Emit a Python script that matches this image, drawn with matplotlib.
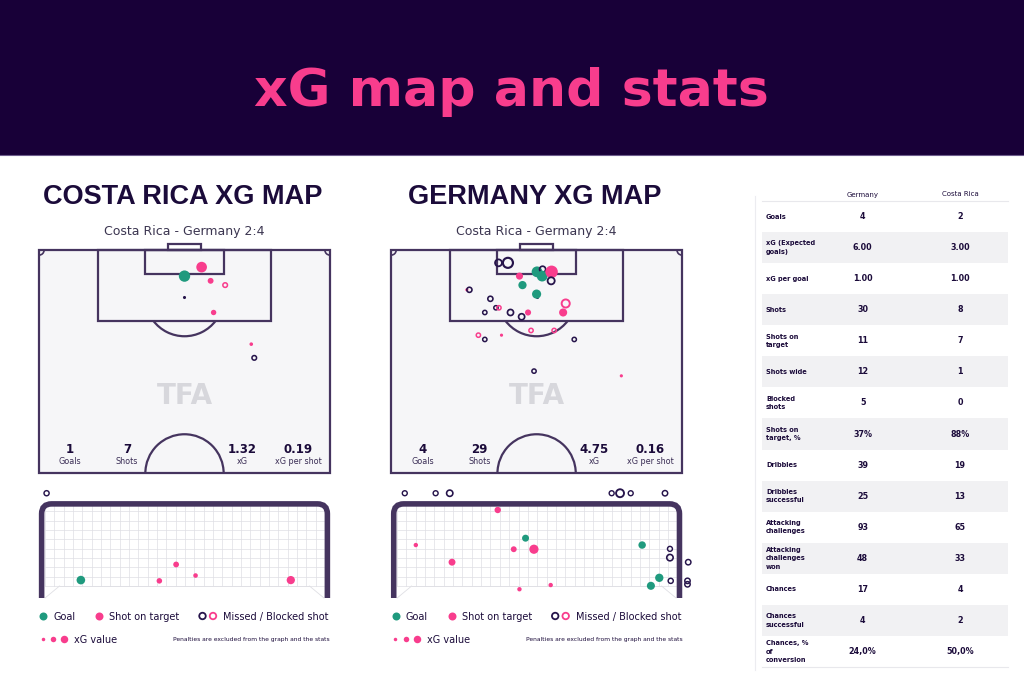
import numpy as np
import matplotlib
matplotlib.use('Agg')
import matplotlib.pyplot as plt
from matplotlib.patches import Rectangle, Arc, PathPatch
from matplotlib.path import Path

plt.rcParams['font.family'] = 'DejaVu Sans'

W, H = 1024, 683

# colours
navy = '#180038'
pink = '#f83d8d'
green = '#1f9a7e'
dark = '#26144b'
line_col = '#45345f'
pitch_bg = '#f6f6f8'
net_col = '#dfdfe4'
text_dark = '#1b0b3a'
row_grey = '#f1f1f3'

# ---------------- data ----------------
match_label = 'Costa Rica - Germany 2:4'
summary_labels = ['Goals', 'Shots', 'xG', 'xG per shot']
cr_summary = ['1', '7', '1.32', '0.19']
de_summary = ['4', '29', '4.75', '0.16']

# shots on pitch: x across (m, 0 = centre), y = metres from goal line
cr_shot_x = [4.0, 0.0, 6.1, 9.5, 6.8, 15.6, 16.3]
cr_shot_y = [4.0, 6.1, 7.2, 8.2, 14.6, 22.0, 25.2]
cr_shot_xg = [0.43, 0.49, 0.12, 0.07, 0.10, 0.04, 0.07]
cr_shot_type = ['target', 'goal', 'target', 'blocked', 'target', 'target', 'missed']

de_shot_x = [-8.9, -6.7, 0.1, 1.4, 1.3, 3.5, 3.4, -4.0, -3.3, 0.0, -16.3, -15.7,
             -10.8, -12.1, -9.5, -8.8, -6.1, -2.0, -3.5, 6.8, 6.2, -1.3, 4.1,
             -13.6, -12.1, -8.2, 8.8, -0.6, 19.8]
de_shot_y = [3.0, 3.0, 5.1, 4.5, 6.1, 5.1, 7.2, 6.1, 8.2, 10.3, 9.3, 9.3,
             11.4, 14.6, 13.5, 13.5, 14.6, 14.6, 15.6, 12.5, 14.6, 18.8, 18.8,
             19.9, 20.9, 19.9, 20.9, 28.3, 29.4]
de_shot_xg = [0.17, 0.38, 0.44, 0.13, 0.44, 0.60, 0.18, 0.18, 0.25, 0.31, 0.03, 0.09,
              0.09, 0.06, 0.06, 0.06, 0.13, 0.13, 0.13, 0.24, 0.24, 0.06, 0.06,
              0.06, 0.06, 0.03, 0.06, 0.06, 0.03]
de_shot_type = ['missed', 'missed', 'goal', 'missed', 'goal', 'target', 'missed',
                'target', 'goal', 'goal', 'target', 'missed', 'missed', 'missed',
                'missed', 'blocked', 'missed', 'target', 'missed', 'blocked', 'target',
                'blocked', 'blocked', 'blocked', 'missed', 'target', 'missed',
                'missed', 'target']

# shots seen in the goal mouth: x across goal (m), y height (m)
cr_goal_x = [-3.62, -2.72, -0.66, -0.22, 0.29, 2.79]
cr_goal_y = [2.75, 0.47, 0.45, 0.88, 0.59, 0.47]
cr_goal_xg = [0.07, 0.49, 0.10, 0.12, 0.04, 0.43]
cr_goal_type = ['missed', 'goal', 'target', 'target', 'target', 'target']

de_goal_x = [-3.46, -2.65, -2.28, 1.97, 2.19, 2.47, 3.37, -1.02, -3.17, -0.29,
             -0.60, -0.07, -2.22, 2.77, 3.50, 3.50, 3.98, 3.22, 3.00, 3.52,
             3.96, 3.96, -0.45, 0.37]
de_goal_y = [2.75, 2.75, 2.75, 2.75, 2.75, 2.75, 2.75, 2.31, 1.39, 1.57,
             1.28, 1.28, 0.94, 1.39, 1.29, 1.06, 0.94, 0.53, 0.32, 0.45,
             0.45, 0.36, 0.23, 0.34]
de_goal_xg = [0.06, 0.06, 0.17, 0.06, 0.38, 0.06, 0.09, 0.18, 0.03, 0.25,
              0.13, 0.60, 0.24, 0.31, 0.06, 0.18, 0.09, 0.44, 0.40, 0.07,
              0.09, 0.09, 0.03, 0.03]
de_goal_type = ['missed'] * 7 + ['target', 'target', 'goal', 'target', 'target',
                                 'target', 'goal', 'missed', 'missed', 'missed',
                                 'goal', 'goal', 'missed', 'missed', 'missed',
                                 'target', 'target']

# stats table
table_labels = ['Goals', 'xG (Expected\ngoals)', 'xG per goal', 'Shots',
                'Shots on\ntarget', 'Shots wide', 'Blocked\nshots',
                'Shots on\ntarget, %', 'Dribbles', 'Dribbles\nsuccessful',
                'Attacking\nchallenges', 'Attacking\nchallenges\nwon', 'Chances',
                'Chances\nsuccessful', 'Chances, %\nof\nconversion']
germany_vals = ['4', '6.00', '1.00', '30', '11', '12', '5', '37%', '39', '25',
                '93', '48', '17', '4', '24,0%']
costa_vals = ['2', '3.00', '1.00', '8', '7', '1', '0', '88%', '19', '13',
              '65', '33', '4', '2', '50,0%']

# ---------------- helpers ----------------
S = 4.28      # px per metre on the pitch
SG = 38.1     # px per metre on the goal view


def px_axes(x0, y0, w, h):
    ax = fig.add_axes([x0 / W, 1 - (y0 + h) / H, w / W, h / H])
    ax.axis('off')
    return ax


def marker_style(types, xg, k, base, lw_k):
    fc, ec, sizes, lws = [], [], [], []
    for t, v in zip(types, xg):
        d = base + k * np.sqrt(v)
        sizes.append((d * 0.72) ** 2)
        if t == 'goal':
            fc.append(green); ec.append(green); lws.append(0)
        elif t == 'target':
            fc.append(pink); ec.append(pink); lws.append(0)
        elif t == 'blocked':
            fc.append('none'); ec.append(pink); lws.append(0.8 + lw_k * np.sqrt(v))
        else:
            fc.append('none'); ec.append(dark); lws.append(0.8 + lw_k * np.sqrt(v))
    return fc, ec, sizes, lws


def draw_pitch(cx, values, sx, sy, sxg, stype):
    ax = px_axes(cx - 34.8 * S, 250 - 2.5 * S, 69.6 * S, 56 * S)
    ax.set_xlim(-34.8, 34.8)
    ax.set_ylim(53.5, -2.5)
    kw = dict(fill=False, ec=line_col, lw=1.6)
    ax.add_patch(Rectangle((-34, 0), 68, 52.2, fc=pitch_bg, ec=line_col, lw=1.6))
    ax.add_patch(Rectangle((-20.16, 0), 40.32, 16.5, **kw))
    ax.add_patch(Rectangle((-9.16, 0), 18.32, 5.5, **kw))
    ax.add_patch(Rectangle((-3.9, -1.3), 7.8, 1.3, **kw))
    ax.add_patch(Arc((0, 11), 18.3, 18.3, theta1=37, theta2=143, ec=line_col, lw=1.6))
    ax.add_patch(Arc((0, 52.2), 18.3, 18.3, theta1=180, theta2=360, ec=line_col, lw=1.6))
    ax.add_patch(Arc((-34, 0), 2.4, 2.4, theta1=0, theta2=90, ec=line_col, lw=1.2))
    ax.add_patch(Arc((34, 0), 2.4, 2.4, theta1=90, theta2=180, ec=line_col, lw=1.2))
    ax.scatter([0], [11], s=1.5, color=dark, zorder=3)
    ax.text(0, 34, 'TFA', ha='center', va='center', fontsize=20, fontweight='bold',
            color='#d7d7dc')
    for x, v, lab in zip([-26.7, -13.4, 13.4, 26.5], values, summary_labels):
        ax.text(x, 47.5, v, ha='center', va='baseline', fontsize=8.5,
                fontweight='bold', color=text_dark)
        ax.text(x, 50.0, lab, ha='center', va='baseline', fontsize=5.8,
                color='#3a2d55')
    fc, ec, sz, lw = marker_style(stype, sxg, 15.5, 0.5, 1.2)
    ax.scatter(sx, sy, s=sz, facecolors=fc, edgecolors=ec, linewidths=lw, zorder=4)
    return ax


def draw_goal(cx, gx, gy, gxg, gtype):
    ax = px_axes(cx - 155, 485, 310, 117)
    ax.set_xlim(-155 / SG, 155 / SG)
    ax.set_ylim((598 - 602) / SG, (598 - 485) / SG)
    yb = 12 / SG
    # net grid
    for x in np.arange(-3.66, 3.67, 0.245):
        ax.plot([x, x], [yb, 2.44], color=net_col, lw=0.5, zorder=1)
    for y in np.arange(yb, 2.44, 0.245):
        ax.plot([-3.66, 3.66], [y, y], color=net_col, lw=0.5, zorder=1)
    ax.plot([-3.28, 3.28], [yb, yb], color=net_col, lw=0.6, zorder=1)
    ax.plot([-3.66, -3.28], [0, yb], color=net_col, lw=0.6, zorder=1)
    ax.plot([3.66, 3.28], [0, yb], color=net_col, lw=0.6, zorder=1)
    # frame with rounded top corners
    r, px_, top = 0.26, 3.75, 2.47
    verts = [(-px_, 0), (-px_, top - r), (-px_, top), (-px_ + r, top),
             (px_ - r, top), (px_, top), (px_, top - r), (px_, 0)]
    codes = [Path.MOVETO, Path.LINETO, Path.CURVE3, Path.CURVE3,
             Path.LINETO, Path.CURVE3, Path.CURVE3, Path.LINETO]
    ax.add_patch(PathPatch(Path(verts, codes), fill=False, ec=line_col, lw=4.0,
                           capstyle='butt', zorder=2))
    fc, ec, sz, lw = marker_style(gtype, gxg, 8.0, 3.0, 0.9)
    ax.scatter(gx, gy, s=sz, facecolors=fc, edgecolors=ec, linewidths=lw,
               zorder=4, clip_on=False)
    return ax


# ---------------- figure ----------------
fig = plt.figure(figsize=(W / 100, H / 100), dpi=100)
bg = fig.add_axes([0, 0, 1, 1])
bg.set_xlim(0, W)
bg.set_ylim(H, 0)
bg.axis('off')

bg.add_patch(Rectangle((0, 0), W, 155, color=navy, lw=0))
bg.plot([0, W], [155, 155], color='#6d5c8c', lw=0.8)
bg.text(511, 106, 'xG map and stats', color=pink, fontsize=37.5, fontweight='bold',
        ha='center', va='baseline')

pitch_centres = [184.5, 536.6]
pitch_titles = ['COSTA RICA XG MAP', 'GERMANY XG MAP']
for cx, title in zip(pitch_centres, pitch_titles):
    bg.text(cx - 2, 203.5, title, ha='center', va='baseline', fontsize=19.5,
            fontweight='bold', family='Liberation Sans', color=text_dark)
    bg.text(cx, 235, match_label, ha='center', va='baseline', fontsize=9,
            color='#3b3550')

draw_pitch(pitch_centres[0], cr_summary, cr_shot_x, cr_shot_y, cr_shot_xg, cr_shot_type)
draw_pitch(pitch_centres[1], de_summary, de_shot_x, de_shot_y, de_shot_xg, de_shot_type)
draw_goal(pitch_centres[0], cr_goal_x, cr_goal_y, cr_goal_xg, cr_goal_type)
draw_goal(pitch_centres[1], de_goal_x, de_goal_y, de_goal_xg, de_goal_type)

# legends under each goal
for left in [39, 391.7]:
    y1, y2 = 616, 639
    bg.scatter([left + 4], [y1], s=(8 * 0.72) ** 2, color=green, lw=0)
    bg.text(left + 14, y1, 'Goal', va='center_baseline', fontsize=7, color=text_dark)
    bg.scatter([left + 60], [y1], s=(8 * 0.72) ** 2, color=pink, lw=0)
    bg.text(left + 70, y1, 'Shot on target', va='center_baseline', fontsize=7,
            color=text_dark)
    bg.scatter([left + 163.5], [y1], s=(6.5 * 0.72) ** 2, facecolors='none',
               edgecolors=dark, linewidths=1.3)
    bg.scatter([left + 174], [y1], s=(6.5 * 0.72) ** 2, facecolors='none',
               edgecolors=pink, linewidths=1.3)
    bg.text(left + 184, y1, 'Missed / Blocked shot', va='center_baseline',
            fontsize=7, color=text_dark)
    for dx, d in zip([3.7, 14.3, 25], [3.5, 5.5, 7.5]):
        bg.scatter([left + dx], [y2], s=(d * 0.72) ** 2, color=pink, lw=0)
    bg.text(left + 35, y2, 'xG value', va='center_baseline', fontsize=7,
            color=text_dark)
    bg.text(left + 291, y2, 'Penalties are excluded from the graph and the stats',
            ha='right', va='center_baseline', fontsize=4.3, color=text_dark)

# ---------------- stats table ----------------
row_top, row_h = 201, 31.07
tx0, tx1 = 761.5, 1008
col_de, col_cr, col_lab = 862.7, 960, 766

bg.plot([755, 755], [196, 670], color='#ececf0', lw=0.8)
bg.text(col_de, 194.5, 'Germany', ha='center', va='center', fontsize=5,
        color=text_dark)
bg.text(col_cr, 194.5, 'Costa Rica', ha='center', va='center', fontsize=5,
        color=text_dark)
bg.plot([tx0, tx1], [row_top, row_top], color='#e8e8ec', lw=0.8)
for i, (lab, gv, cv) in enumerate(zip(table_labels, germany_vals, costa_vals)):
    y0 = row_top + i * row_h
    if i % 2 == 1:
        bg.add_patch(Rectangle((tx0, y0), tx1 - tx0, row_h, color=row_grey, lw=0))
    yc = y0 + row_h / 2
    bg.text(col_lab, yc, lab, ha='left', va='center', fontsize=4.8,
            fontweight='bold', color=text_dark, linespacing=1.5)
    bg.text(col_de, yc, gv, ha='center', va='center', fontsize=5.8,
            fontweight='bold', color=text_dark)
    bg.text(col_cr, yc, cv, ha='center', va='center', fontsize=5.8,
            fontweight='bold', color=text_dark)
bg.plot([tx0, tx1], [row_top + 15 * row_h, row_top + 15 * row_h],
        color='#e8e8ec', lw=0.8)

fig.savefig('out.png', dpi=100, facecolor='white')
